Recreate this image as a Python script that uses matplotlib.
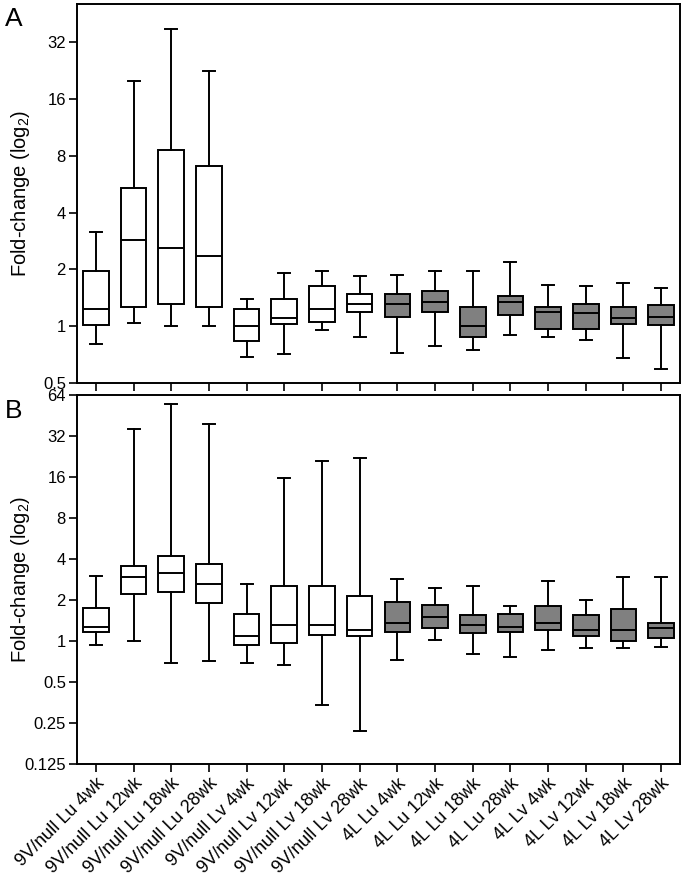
import matplotlib
matplotlib.use('Agg')
import matplotlib.pyplot as plt
from matplotlib.ticker import FixedLocator, FuncFormatter, NullLocator

plt.rcParams['font.family'] = ['Liberation Sans', 'DejaVu Sans']
plt.rcParams['mathtext.fontset'] = 'custom'
plt.rcParams['mathtext.rm'] = 'Liberation Sans'

groups = ['9V/null Lu 4wk', '9V/null Lu 12wk', '9V/null Lu 18wk', '9V/null Lu 28wk',
          '9V/null Lv 4wk', '9V/null Lv 12wk', '9V/null Lv 18wk', '9V/null Lv 28wk',
          '4L Lu 4wk', '4L Lu 12wk', '4L Lu 18wk', '4L Lu 28wk',
          '4L Lv 4wk', '4L Lv 12wk', '4L Lv 18wk', '4L Lv 28wk']
is_4L = [False] * 8 + [True] * 8

# panel A: whisker low, Q1, median, Q3, whisker high
a_low = [0.80, 1.04, 1.00, 1.00, 0.69, 0.71, 0.95, 0.88, 0.72, 0.79, 0.75, 0.90, 0.88, 0.84, 0.68, 0.59]
a_q1 = [1.02, 1.26, 1.31, 1.26, 0.83, 1.03, 1.05, 1.19, 1.12, 1.19, 0.88, 1.14, 0.97, 0.97, 1.03, 1.01]
a_med = [1.24, 2.88, 2.60, 2.35, 1.00, 1.10, 1.24, 1.31, 1.31, 1.34, 1.00, 1.34, 1.19, 1.17, 1.10, 1.12]
a_q3 = [1.96, 5.42, 8.57, 7.05, 1.23, 1.39, 1.64, 1.48, 1.48, 1.54, 1.26, 1.45, 1.26, 1.31, 1.26, 1.29]
a_high = [3.16, 20.0, 37.8, 22.6, 1.39, 1.91, 1.95, 1.85, 1.87, 1.95, 1.95, 2.20, 1.66, 1.64, 1.70, 1.60]

# panel B
b_low = [0.94, 1.00, 0.69, 0.71, 0.69, 0.67, 0.34, 0.22, 0.73, 1.02, 0.80, 0.76, 0.86, 0.89, 0.89, 0.91]
b_q1 = [1.17, 2.21, 2.28, 1.89, 0.94, 0.97, 1.11, 1.08, 1.17, 1.24, 1.14, 1.17, 1.20, 1.08, 1.00, 1.05]
b_med = [1.27, 2.93, 3.18, 2.63, 1.08, 1.31, 1.31, 1.20, 1.35, 1.50, 1.31, 1.27, 1.35, 1.20, 1.20, 1.24]
b_q3 = [1.74, 3.57, 4.19, 3.66, 1.59, 2.53, 2.53, 2.14, 1.94, 1.83, 1.54, 1.59, 1.82, 1.54, 1.73, 1.35]
b_high = [3.01, 36.3, 54.8, 39.5, 2.61, 15.7, 21.0, 22.0, 2.84, 2.46, 2.53, 1.82, 2.77, 1.99, 2.93, 2.93]

a_ticks = [0.5, 1, 2, 4, 8, 16, 32]
b_ticks = [0.125, 0.25, 0.5, 1, 2, 4, 8, 16, 32, 64]

fig = plt.figure(figsize=(6.85, 8.83), dpi=100)
axA = fig.add_axes([77 / 685, 1 - 383 / 883, 603 / 685, 379 / 883])
axB = fig.add_axes([77 / 685, 1 - 764 / 883, 603 / 685, 369 / 883])


def draw(ax, low, q1, med, q3, high, ticks, ylim):
    stats = []
    for i in range(len(groups)):
        stats.append({'whislo': low[i], 'q1': q1[i], 'med': med[i],
                      'q3': q3[i], 'whishi': high[i], 'fliers': []})
    pos = list(range(1, len(groups) + 1))
    lw = 1.4
    res = ax.bxp(stats, positions=pos, widths=0.68, capwidths=0.32,
                 patch_artist=True, showfliers=False,
                 boxprops=dict(linewidth=lw, edgecolor='black'),
                 whiskerprops=dict(linewidth=lw, color='black'),
                 capprops=dict(linewidth=lw, color='black'),
                 medianprops=dict(linewidth=lw, color='black'))
    for box, dark in zip(res['boxes'], is_4L):
        box.set_facecolor('#808080' if dark else 'white')
    ax.set_yscale('log', base=2)
    ax.set_ylim(*ylim)
    ax.set_xlim(0.5, len(groups) + 0.5)
    ax.yaxis.set_major_locator(FixedLocator(ticks))
    ax.yaxis.set_minor_locator(NullLocator())
    ax.yaxis.set_major_formatter(FuncFormatter(lambda v, p: '%g' % v))
    ax.tick_params(axis='both', direction='out', length=6, width=1.2, labelsize=12,
                   pad=2, colors='black')
    for s in ax.spines.values():
        s.set_linewidth(1.4)
    ax.set_ylabel('Fold-change (log$_2$)', fontsize=14.5)
    ax.yaxis.set_label_coords(-0.075, 0.5)


draw(axA, a_low, a_q1, a_med, a_q3, a_high, a_ticks, (0.5, 51))
draw(axB, b_low, b_q1, b_med, b_q3, b_high, b_ticks, (0.125, 64))

axA.set_xticks(range(1, len(groups) + 1))
axA.set_xticklabels([])
axB.set_xticks(range(1, len(groups) + 1))
axB.set_xticklabels(groups, rotation=45, ha='right', rotation_mode='anchor', fontsize=13)

fig.text(5 / 685, 1 - 26 / 883, 'A', fontsize=19, va='baseline')
fig.text(5 / 685, 1 - 418 / 883, 'B', fontsize=19, va='baseline')

fig.savefig('out.png', dpi=100)
